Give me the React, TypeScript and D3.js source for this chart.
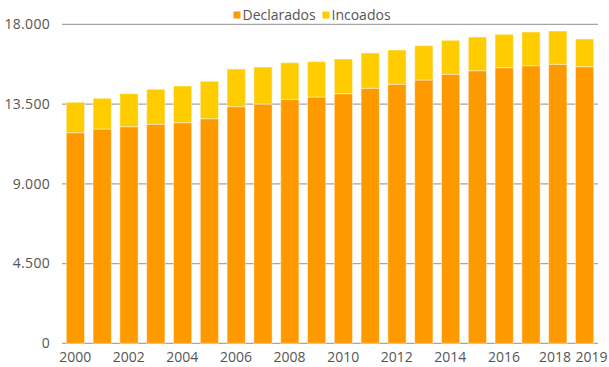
import React from "react";
import * as d3 from "d3";

const years = ["2000","2001","2002","2003","2004","2005","2006","2007","2008","2009","2010","2011","2012","2013","2014","2015","2016","2017","2018","2019"];
const declarados = [11884,12092,12222,12358,12448,12674,13351,13503,13768,13898,14084,14389,14615,14857,15179,15382,15551,15664,15743,15608];
const incoados = [1715,1733,1862,1975,2071,2110,2127,2088,2066,1992,1958,1992,1935,1936,1918,1902,1885,1902,1879,1563];
const yTicks = [0, 4500, 9000, 13500, 18000];
const xTickLabels = ["2000","2002","2004","2006","2008","2010","2012","2014","2016","2018","2019"];
const seriesNames = ["Declarados", "Incoados"];
const colors = ["#FF9900", "#FFCC00"];

const W = 609, H = 367;
const margin = { left: 62, right: 11, top: 24.3, bottom: 23.7 };
const font = "'Open Sans', sans-serif";
const textColor = "#555";
const FS = 14;
const labelW = 32.5;

export default function App() {
  const x = d3.scaleBand<string>().domain(years).range([margin.left, W - margin.right]).paddingInner(0.32).paddingOuter(0.16);
  const y = d3.scaleLinear().domain([0, 18000]).range([H - margin.bottom, margin.top]);
  const rows = years.map((yr, i) => ({ year: yr, Declarados: declarados[i], Incoados: incoados[i] }));
  const stack = d3.stack<any>().keys(seriesNames)(rows);
  const fmt = (v: number) => d3.format(",")(v).replace(/,/g, ".");

  // lay out x labels from right to left: last one flush to the right edge, others centered, avoiding overlap
  const placed: { lab: string; left: number }[] = [];
  let limit = W - 1;
  [...xTickLabels].reverse().forEach((lab, k) => {
    const cx = (x(lab) as number) + x.bandwidth() / 2;
    let left = k === 0 ? limit - labelW : cx - labelW / 2;
    if (left + labelW > limit) left = limit - labelW;
    placed.push({ lab, left });
    limit = left - 4;
  });

  return (
    <svg width={W} height={H} style={{ position: "absolute", left: 0, top: 0, fontFamily: font }}>
      {yTicks.map((t) => (
        <g key={t}>
          <line x1={margin.left} x2={W - margin.right} y1={y(t)} y2={y(t)} stroke="#a6a6a6" strokeWidth={1.3} />
          <text x={50} y={y(t)} dy="0.35em" textAnchor="end" fontSize={FS} letterSpacing={0.3} fill={textColor}>{fmt(t)}</text>
        </g>
      ))}
      {stack.map((s, si) => (
        <g key={si} fill={colors[si]}>
          {s.map((d, i) => (
            <rect key={i} x={x(years[i])} width={x.bandwidth()} y={y(d[1])} height={y(d[0]) - y(d[1])}
              stroke="rgba(255,255,255,0.45)" strokeWidth={1} />
          ))}
        </g>
      ))}
      {placed.map(({ lab, left }) => (
        <text key={lab} x={left} y={362} textAnchor="start" fontSize={FS} fill={textColor}>{lab}</text>
      ))}
      <g>
        <rect x={233.5} y={11.5} width={7} height={7} fill={colors[0]} />
        <text x={242.5} y={19.5} fontSize={FS} fill={textColor}>{seriesNames[0]}</text>
        <rect x={322.5} y={11.5} width={7} height={7} fill={colors[1]} />
        <text x={331.5} y={19.5} fontSize={FS} fill={textColor}>{seriesNames[1]}</text>
      </g>
    </svg>
  );
}
